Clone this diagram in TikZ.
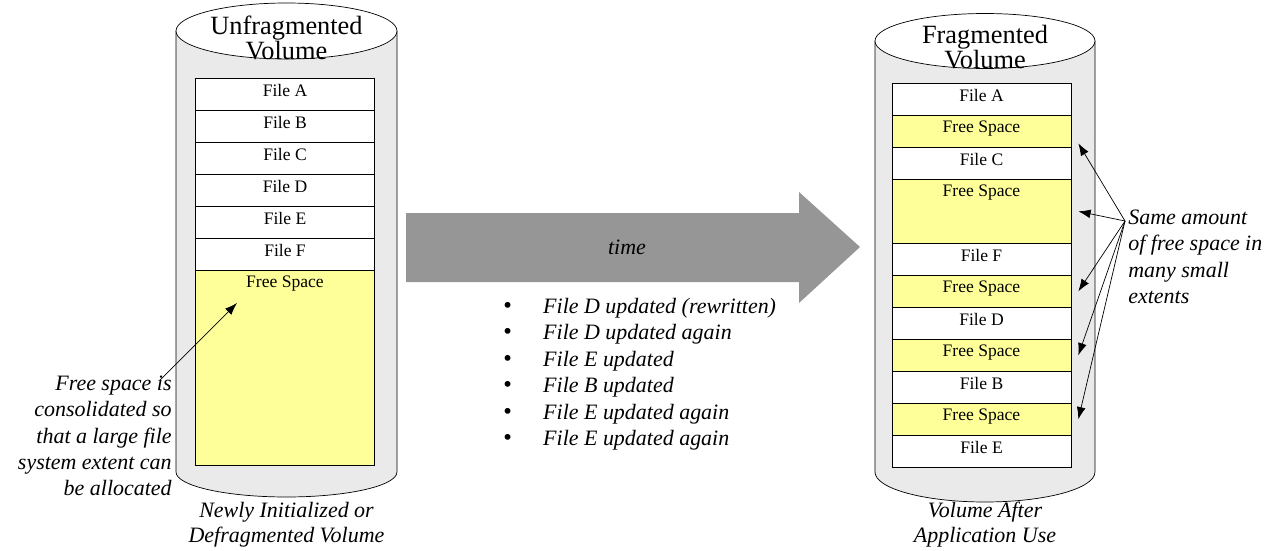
\documentclass[tikz,border=0pt]{standalone}
\usepackage{fontspec}
\setmainfont{Liberation Serif}
\usetikzlibrary{arrows.meta}
\definecolor{pared}{RGB}{234,234,234}
\definecolor{libre}{RGB}{255,255,153}
\definecolor{flecha}{RGB}{150,150,150}
\newcommand{\evento}[1]{\makebox[22.7pt][l]{\smash{\upshape\fontsize{14}{14}\selectfont\textbullet}}#1}
\tikzset{
	celda/.style={draw=black, fill=white, minimum width=3.58cm, minimum height=0.64cm, anchor=north, inner sep=0pt,
		label={[anchor=north, font=\fontsize{10}{12}\selectfont]north:#1}},
	hueco/.style={celda=#1, fill=libre},
	titulo/.style={align=center, inner sep=0pt, font=\fontsize{15}{13.6}\selectfont},
	nota/.style={inner sep=0pt, font=\fontsize{12.5}{15}\selectfont\itshape},
	punta/.style={-{Latex[length=7pt,width=5pt]}, thin},
}
\begin{document}
\begin{tikzpicture}[x=0.02cm, y=-0.02cm]
	\useasboundingbox (0,0) rectangle (1272,551);

	% Cilindro izquierdo
		\draw[fill=pared] (176,31) -- (176,472) arc[start angle=180, end angle=360, x radius=2.21cm, y radius=0.5cm] -- (397,31) -- cycle;
		\draw[fill=white] (286.5,31) ellipse[x radius=2.21cm, y radius=0.56cm];
		\node[titulo] (tizq) at (286.5,38) {Unfragmented\\Volume};

	% Celdas izquierda
		\node[celda=File A] (iA) at (285,78) {};
		\node[celda=File B] (iB) at (285,110) {};
		\node[celda=File C] (iC) at (285,142) {};
		\node[celda=File D] (iD) at (285,174) {};
		\node[celda=File E] (iE) at (285,206) {};
		\node[celda=File F] (iF) at (285,238) {};
		\node[hueco=Free Space, minimum height=3.9cm] (iL) at (285,270) {};

	% Cilindro derecho
		\draw[fill=pared] (875,41) -- (875,472) arc[start angle=180, end angle=360, x radius=2.2cm, y radius=0.6cm] -- (1095,41) -- cycle;
		\draw[fill=white] (985,41) ellipse[x radius=2.2cm, y radius=0.55cm];
		\node[titulo] (tder) at (985,47) {Fragmented\\Volume};

	% Celdas derecha
		\node[celda=File A] (dA) at (981.5,83) {};
		\node[hueco=Free Space] (dL1) at (981.5,115) {};
		\node[celda=File C] (dC) at (981.5,147) {};
		\node[hueco=Free Space, minimum height=1.28cm] (dL2) at (981.5,179) {};
		\node[celda=File F] (dF) at (981.5,243) {};
		\node[hueco=Free Space] (dL3) at (981.5,275) {};
		\node[celda=File D] (dD) at (981.5,307) {};
		\node[hueco=Free Space] (dL4) at (981.5,339) {};
		\node[celda=File B] (dB) at (981.5,371) {};
		\node[hueco=Free Space] (dL5) at (981.5,403) {};
		\node[celda=File E] (dE) at (981.5,435) {};

	% Pies
		\node[nota, align=center, font=\fontsize{12.5}{14.2}\selectfont\itshape] (pizq) at (286.5,525) {Newly Initialized or\\Defragmented Volume};
		\node[nota, align=center, font=\fontsize{12.5}{14.2}\selectfont\itshape] (pder) at (985,525) {Volume After\\Application Use};

	% Flecha del tiempo
		\fill[flecha] (406,213) -- (799,213) -- (799,192) -- (860,247) -- (799,303) -- (799,282) -- (406,282) -- cycle;
		\node[nota] (tiempo) at (627,247) {time};
		\node[nota, align=left, anchor=north west] (eventos) at (503,298) {\evento{File D updated (rewritten)}\\\evento{File D updated again}\\\evento{File E updated}\\\evento{File B updated}\\\evento{File E updated again}\\\evento{File E updated again}};

	% Notas
		\node[nota, align=right, anchor=east] (consol) at (172,436) {Free space is\\consolidated so\\that a large file\\system extent can\\be allocated};
		\coordinate (cola) at (160,380);
		\coordinate (meta) at (237,303);
		\draw[punta] (cola) -- (meta);

		\node[nota, align=left, anchor=west] (igual) at (1128,257) {Same amount\\of free space in\\many small\\extents};
		\coordinate (hub) at (1125,221);
		\draw[punta] (hub) -- ([xshift=0.14cm, yshift=-0.24cm]dL1.east);
		\draw[punta] (hub) -- ([xshift=0.14cm]dL2.east);
		\draw[punta] (hub) -- ([xshift=0.14cm]dL3.east);
		\draw[punta] (hub) -- ([xshift=0.14cm]dL4.east);
		\draw[punta] (hub) -- ([xshift=0.14cm]dL5.east);
\end{tikzpicture}
\end{document}
